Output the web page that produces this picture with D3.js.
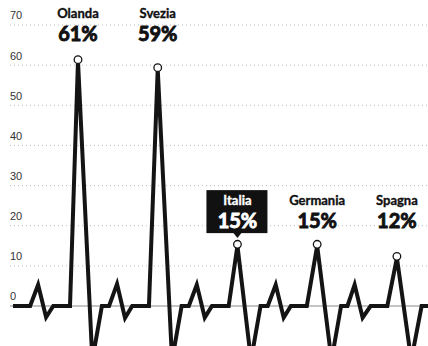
<!DOCTYPE html>
<html>
<head>
<meta charset="utf-8">
<script src="https://cdn.jsdelivr.net/npm/d3@7"></script>
<style>
  html, body { margin: 0; padding: 0; background: #fff; }
  svg { display: block; }
</style>
</head>
<body>
<div id="chart"></div>
<script>
// ---- data ----
const yTicks = [0, 10, 20, 30, 40, 50, 60, 70];

// line trace: time positions and values (%)
const traceT = [-8.15, -6.0, -5.0, -4.0, -3.1, -1.0,
                0, 1.8, 3.0, 3.9, 4.9, 5.9, 6.8, 8.9,
                10, 11.8, 13.0, 13.9, 14.9, 15.9, 16.8, 18.9,
                20, 21.7, 22.9, 23.8, 24.8, 25.8, 26.7, 28.7,
                30, 31.8, 33.0, 33.8, 34.7, 35.7, 36.7, 38.8,
                40, 41.8, 43.1, 43.9];
const traceV = [0, 0, 5.3, -2.8, 0, 0,
                61, -13.5, 0, 0, 5.5, -3, 0, 0,
                59, -13.5, 0, 0, 5.3, -2.9, 0, 0,
                15, -13.5, 0, 0, 5.3, -2.9, 0, 0,
                15, -13.5, 0, 0, 5.3, -2.9, 0, 0,
                12, -13.5, 0, 0];

const countries = ["Olanda", "Svezia", "Italia", "Germania", "Spagna"];
const shares    = [61, 59, 15, 15, 12];
const peakT     = [0, 10, 20, 30, 40];
const labelRow  = ["top", "top", "bottom", "bottom", "bottom"];
const highlight = "Italia";

// ---- drawing ----
const W = 428, H = 346;
const svg = d3.select("#chart").append("svg")
  .attr("width", W).attr("height", H);

const x = d3.scaleLinear().domain([-8.15, 43.9]).range([13, 428]);
const y = d3.scaleLinear().domain([0, 70]).range([306, 25]);

// gridlines
const grid = svg.append("g");
grid.selectAll("line").data(yTicks).join("line")
  .attr("x1", 10).attr("x2", W)
  .attr("y1", d => y(d)).attr("y2", d => y(d))
  .attr("stroke", d => d === 0 ? "#8a8a8a" : "#bdbdbd")
  .attr("stroke-width", 1)
  .attr("stroke-dasharray", d => d === 0 ? null : "1,3");

// y axis labels
const yAxis = d3.axisLeft(y).tickValues(yTicks).tickSize(0).tickFormat(d3.format("d"));
const ya = svg.append("g").attr("transform", "translate(10,0)").call(yAxis);
ya.select(".domain").remove();
ya.selectAll("text")
  .attr("x", 0).attr("dy", "-0.55em")
  .attr("text-anchor", "start")
  .attr("fill", "#333")
  .style("font-family", "'Liberation Sans Narrow', 'Liberation Sans', sans-serif")
  .style("font-size", "11px");

// trace line
const pts = traceT.map((t, i) => [t, traceV[i]]);
const line = d3.line().x(d => x(d[0])).y(d => y(d[1]));
svg.append("path")
  .datum(pts)
  .attr("d", line)
  .attr("fill", "none")
  .attr("stroke", "#141414")
  .attr("stroke-width", 4)
  .attr("stroke-linejoin", "miter")
  .attr("stroke-miterlimit", 4);

// peak markers
svg.selectAll("circle.peak").data(countries).join("circle")
  .attr("class", "peak")
  .attr("cx", (d, i) => x(peakT[i]))
  .attr("cy", (d, i) => y(shares[i]) - 1.5)
  .attr("r", 3.8)
  .attr("fill", "#fff")
  .attr("stroke", "#141414")
  .attr("stroke-width", 1.3);

// labels
const rowPct = { top: y(65.9), bottom: y(19.4) };
const font = "Lato, 'Open Sans', sans-serif";
countries.forEach((c, i) => {
  const cx = x(peakT[i]);
  const by = rowPct[labelRow[i]];
  const isHi = c === highlight;
  const col = isHi ? "#fff" : "#111";
  const g = svg.append("g");
  if (isHi) {
    g.append("rect")
      .attr("x", cx - 31).attr("y", by - 38)
      .attr("width", 61).attr("height", 43)
      .attr("fill", "#111");
    g.append("path")
      .attr("d", d3.line()([[cx - 4, by + 5], [cx + 4, by + 5], [cx, by + 10]]))
      .attr("fill", "#111");
  }
  g.append("text")
    .attr("x", cx).attr("y", by - 23)
    .attr("text-anchor", "middle")
    .attr("fill", col)
    .attr("stroke", col).attr("stroke-width", 0.35)
    .style("font-family", font).style("font-weight", 700)
    .style("font-size", "13px")
    .text(c);
  g.append("text")
    .attr("x", cx).attr("y", by)
    .attr("text-anchor", "middle")
    .attr("fill", col)
    .attr("stroke", col).attr("stroke-width", 0.9)
    .style("font-family", font).style("font-weight", 700)
    .style("font-size", "20px")
    .text(shares[i] + "%");
});
</script>
</body>
</html>
